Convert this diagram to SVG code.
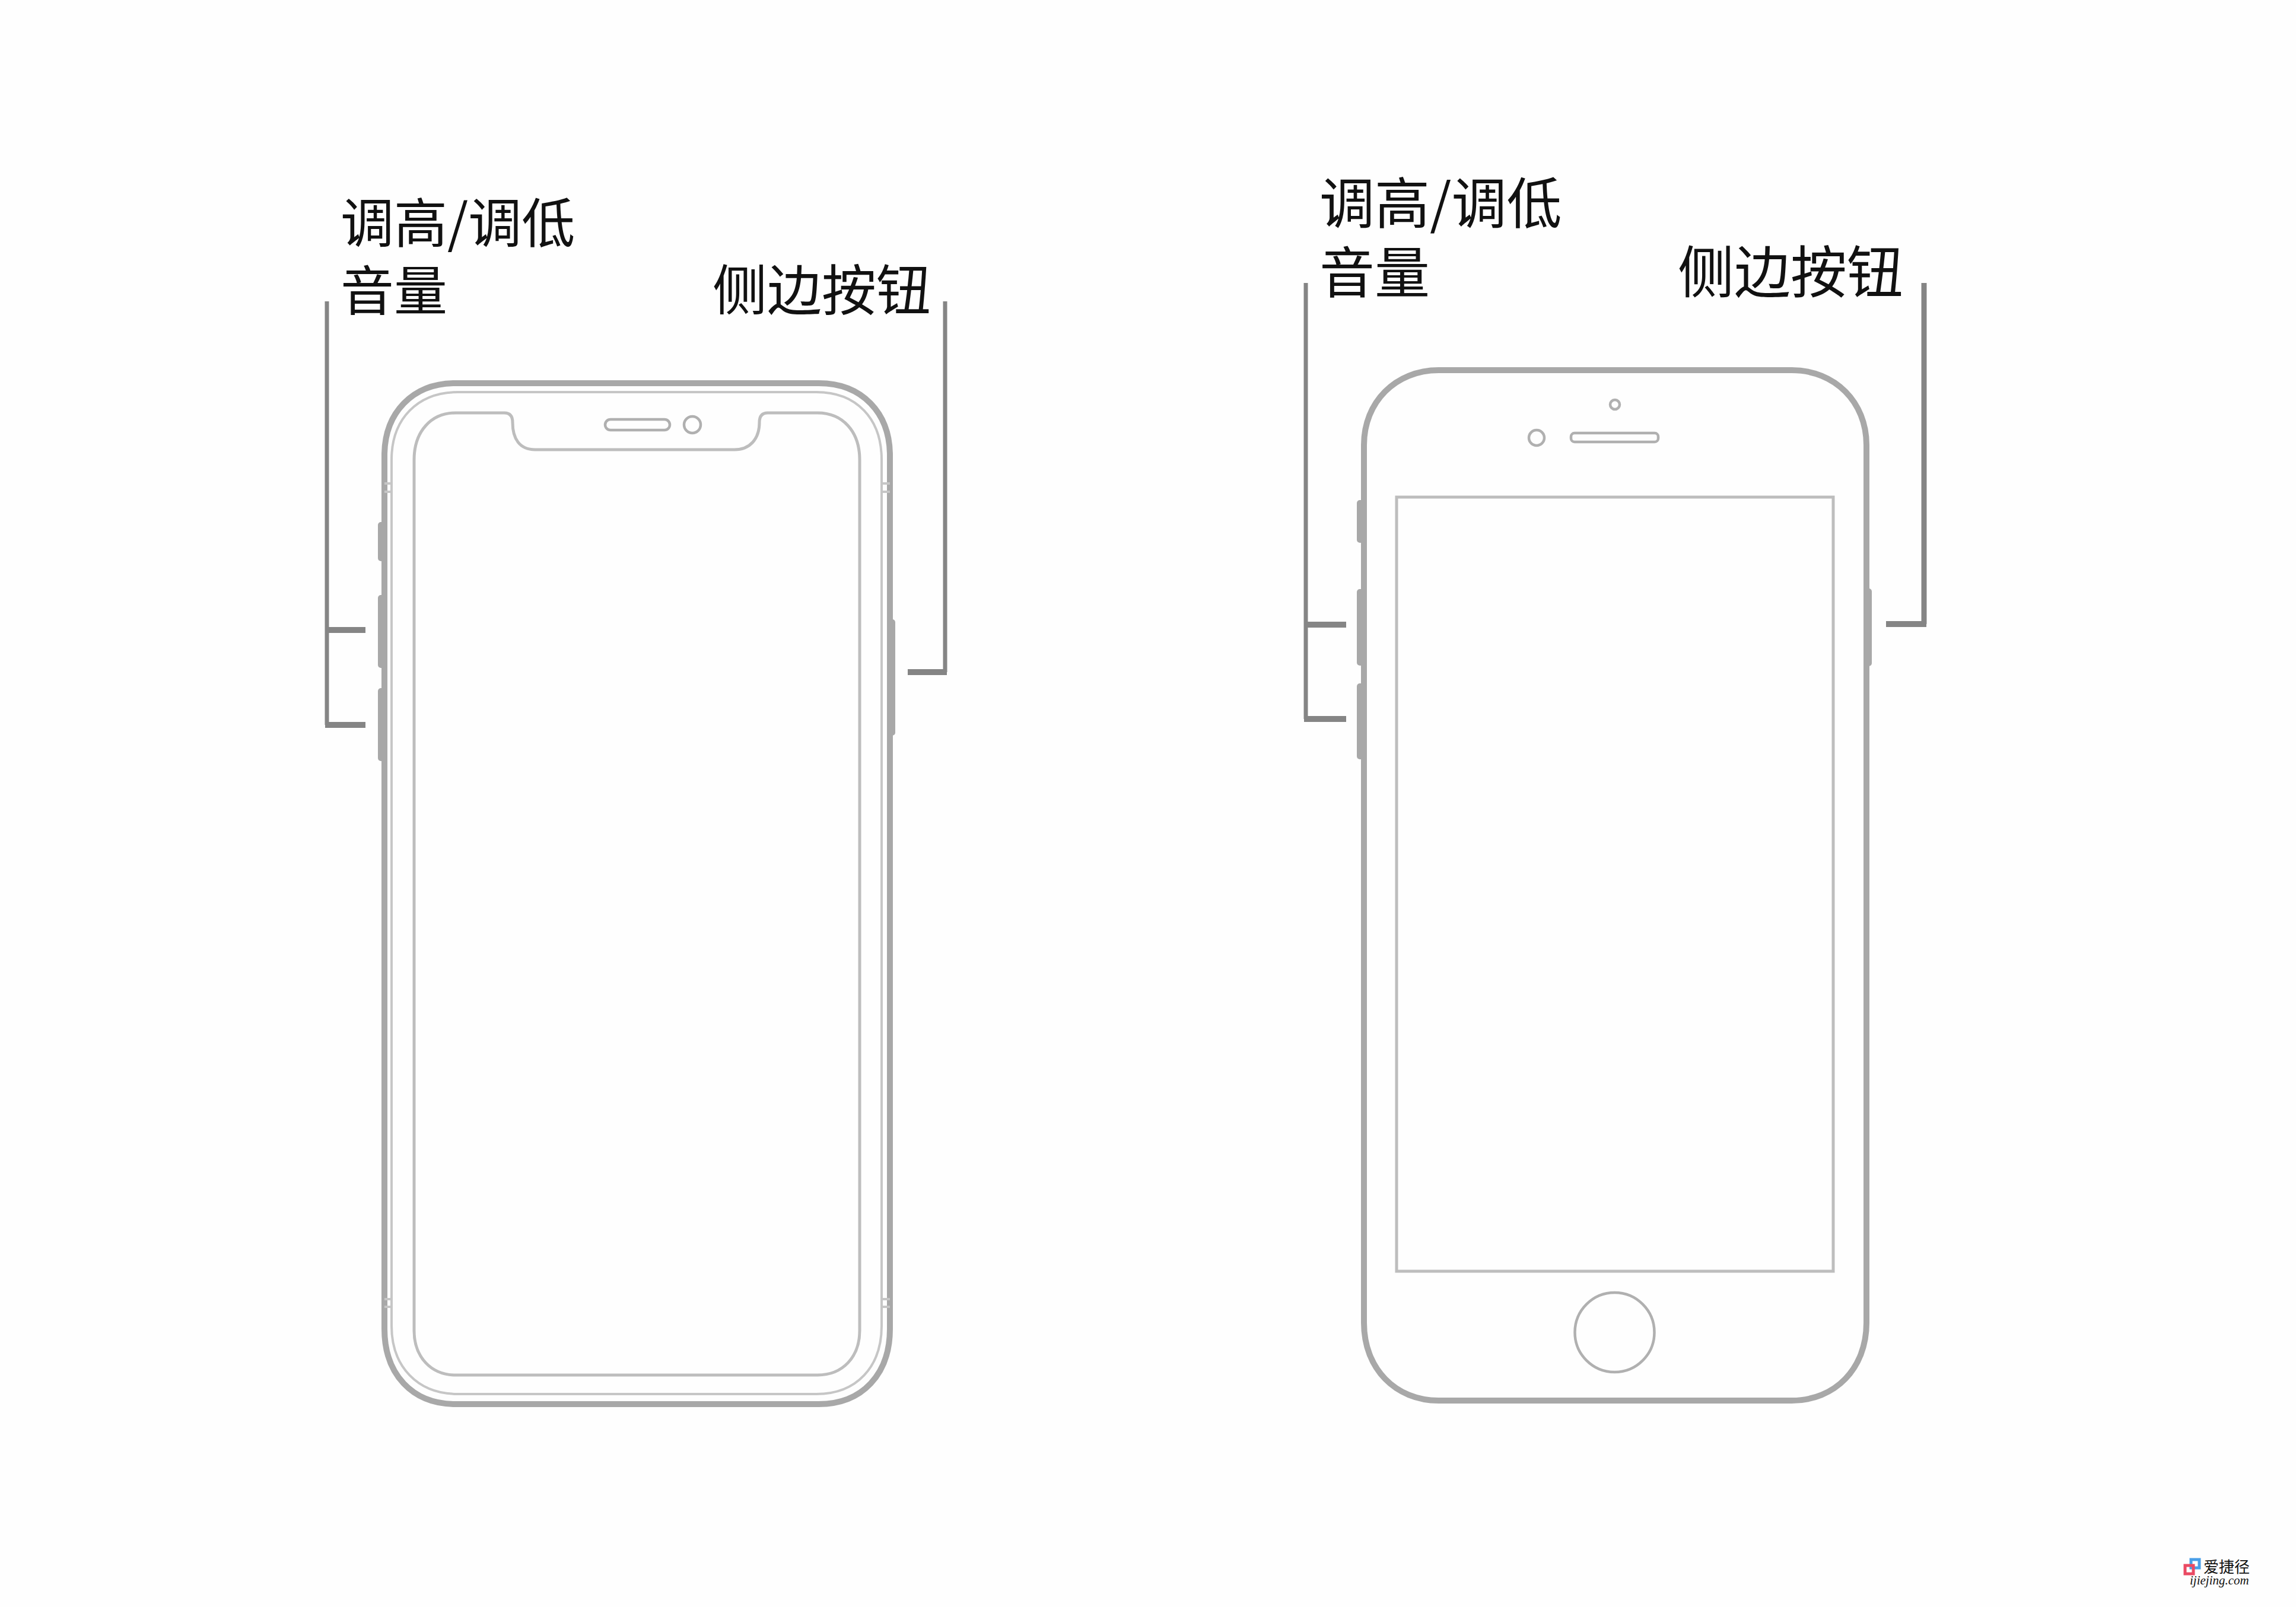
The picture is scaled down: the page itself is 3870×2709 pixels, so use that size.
<svg xmlns="http://www.w3.org/2000/svg" width="3870" height="2709" viewBox="0 0 3870 2709">
<style>
.bg{fill:#fefefe}
.label{font-family:"Noto Sans CJK SC","Liberation Sans",sans-serif;fill:#111}
.l1{font-size:90px}
.l2{font-size:93px}
.outer{fill:none;stroke:#a8a8a8;stroke-width:10}
.thin{fill:none;stroke:#c6c6c6;stroke-width:4}
.scr{fill:none;stroke:#bdbdbd;stroke-width:5}
.part{fill:none;stroke:#b0b0b0;stroke-width:4.5}
.btn{fill:#a8a8a8}
.lead{fill:none;stroke:#858585;stroke-width:7}
.tick{fill:none;stroke:#858585;stroke-width:10}
</style>
<rect class="bg" width="3870" height="2709"/>
<g id="phone-x">
<rect class="btn" x="637" y="880" width="14" height="66" rx="5"/>
<rect class="btn" x="637" y="1003" width="14" height="123" rx="5"/>
<rect class="btn" x="637" y="1160" width="14" height="123" rx="5"/>
<rect class="btn" x="1496" y="1044" width="13" height="196" rx="5"/>
<path class="outer" d="M648 768C648 696 695 646 768 646H1380C1453 646 1500 696 1500 768V2240C1500 2317 1453 2367 1380 2367H768C695 2367 648 2317 648 2240Z"/>
<path class="thin" d="M660 775C660 706 704 661 772 661H1376C1444 661 1486 706 1486 775V2235C1486 2304 1444 2350 1376 2350H772C704 2350 660 2304 660 2235Z"/>
<path class="thin" d="M648 815H660M648 829H660M1486 815H1500M1486 829H1500M648 2190H660M648 2203H660M1486 2190H1500M1486 2203H1500"/>
<path class="scr" d="M698 775C698 727 727 696 768 696H850C860 696 864 702 864 712C864 740 876 758 902 758H1238C1264 758 1280 740 1280 712C1280 702 1284 696 1294 696H1378C1420 696 1449 727 1449 775V2243C1449 2288 1420 2318 1378 2318H768C727 2318 698 2288 698 2243Z"/>
<rect class="part" x="1020" y="707" width="109" height="18" rx="9"/>
<circle class="part" cx="1167" cy="716" r="14"/>
</g>
<g id="phone-8">
<rect class="btn" x="2287" y="843" width="14" height="72" rx="5"/>
<rect class="btn" x="2287" y="993" width="14" height="129" rx="5"/>
<rect class="btn" x="2287" y="1152" width="14" height="128" rx="5"/>
<rect class="btn" x="3143" y="992" width="12" height="131" rx="5"/>
<path class="outer" d="M2299 750C2299 678 2352 624 2425 624H3020C3093 624 3146 678 3146 750V2230C3146 2307 3093 2361 3020 2361H2425C2352 2361 2299 2307 2299 2230Z"/>
<rect class="scr" x="2354" y="838" width="736" height="1305"/>
<rect class="part" x="2648" y="730" width="147" height="15" rx="6"/>
<circle class="part" cx="2590" cy="738" r="13"/>
<circle class="part" cx="2722" cy="682" r="8"/>
<circle class="part" cx="2721.500" cy="2246" r="67"/>
</g>
<g id="connectors">
<path class="lead" d="M551 508V1222"/>
<path class="tick" d="M548 1062H616M548 1222H616"/>
<path class="lead" d="M1593 508V1133"/>
<path class="tick" d="M1530 1133H1596"/>
<path class="lead" d="M2201 477V1212"/>
<path class="tick" d="M2198 1053H2269M2198 1212H2269"/>
<path class="lead" d="M3243 477V1052" style="stroke-width:9"/>
<path class="tick" d="M3179 1052H3247"/>
</g>
<g id="label-x-volume">
<text class="label l1" x="574" y="409">调高/调低</text>
<text class="label l1" x="574" y="523">音量</text>
</g>
<g id="label-x-side"><text class="label" style="font-size:92px" x="1201" y="523">侧边按钮</text></g>
<g id="label-8-volume">
<text class="label l2" x="2224" y="377">调高/调低</text>
<text class="label l2" x="2224" y="494">音量</text>
</g>
<g id="label-8-side"><text class="label" style="font-size:95px" x="2828" y="494">侧边按钮</text></g>
<g id="watermark">
<rect x="3693" y="2629" width="14" height="14" fill="none" stroke="#4a9fe8" stroke-width="5"/>
<rect x="3683" y="2639" width="14" height="14" fill="none" stroke="#ea4a63" stroke-width="5"/>
<text class="label" style="font-size:26px" x="3714" y="2651">爱捷径</text>
<text x="3691" y="2671" style="font-family:'Liberation Serif',serif;font-style:italic;font-size:21px" fill="#111">ijiejing.com</text>
</g>
</svg>
